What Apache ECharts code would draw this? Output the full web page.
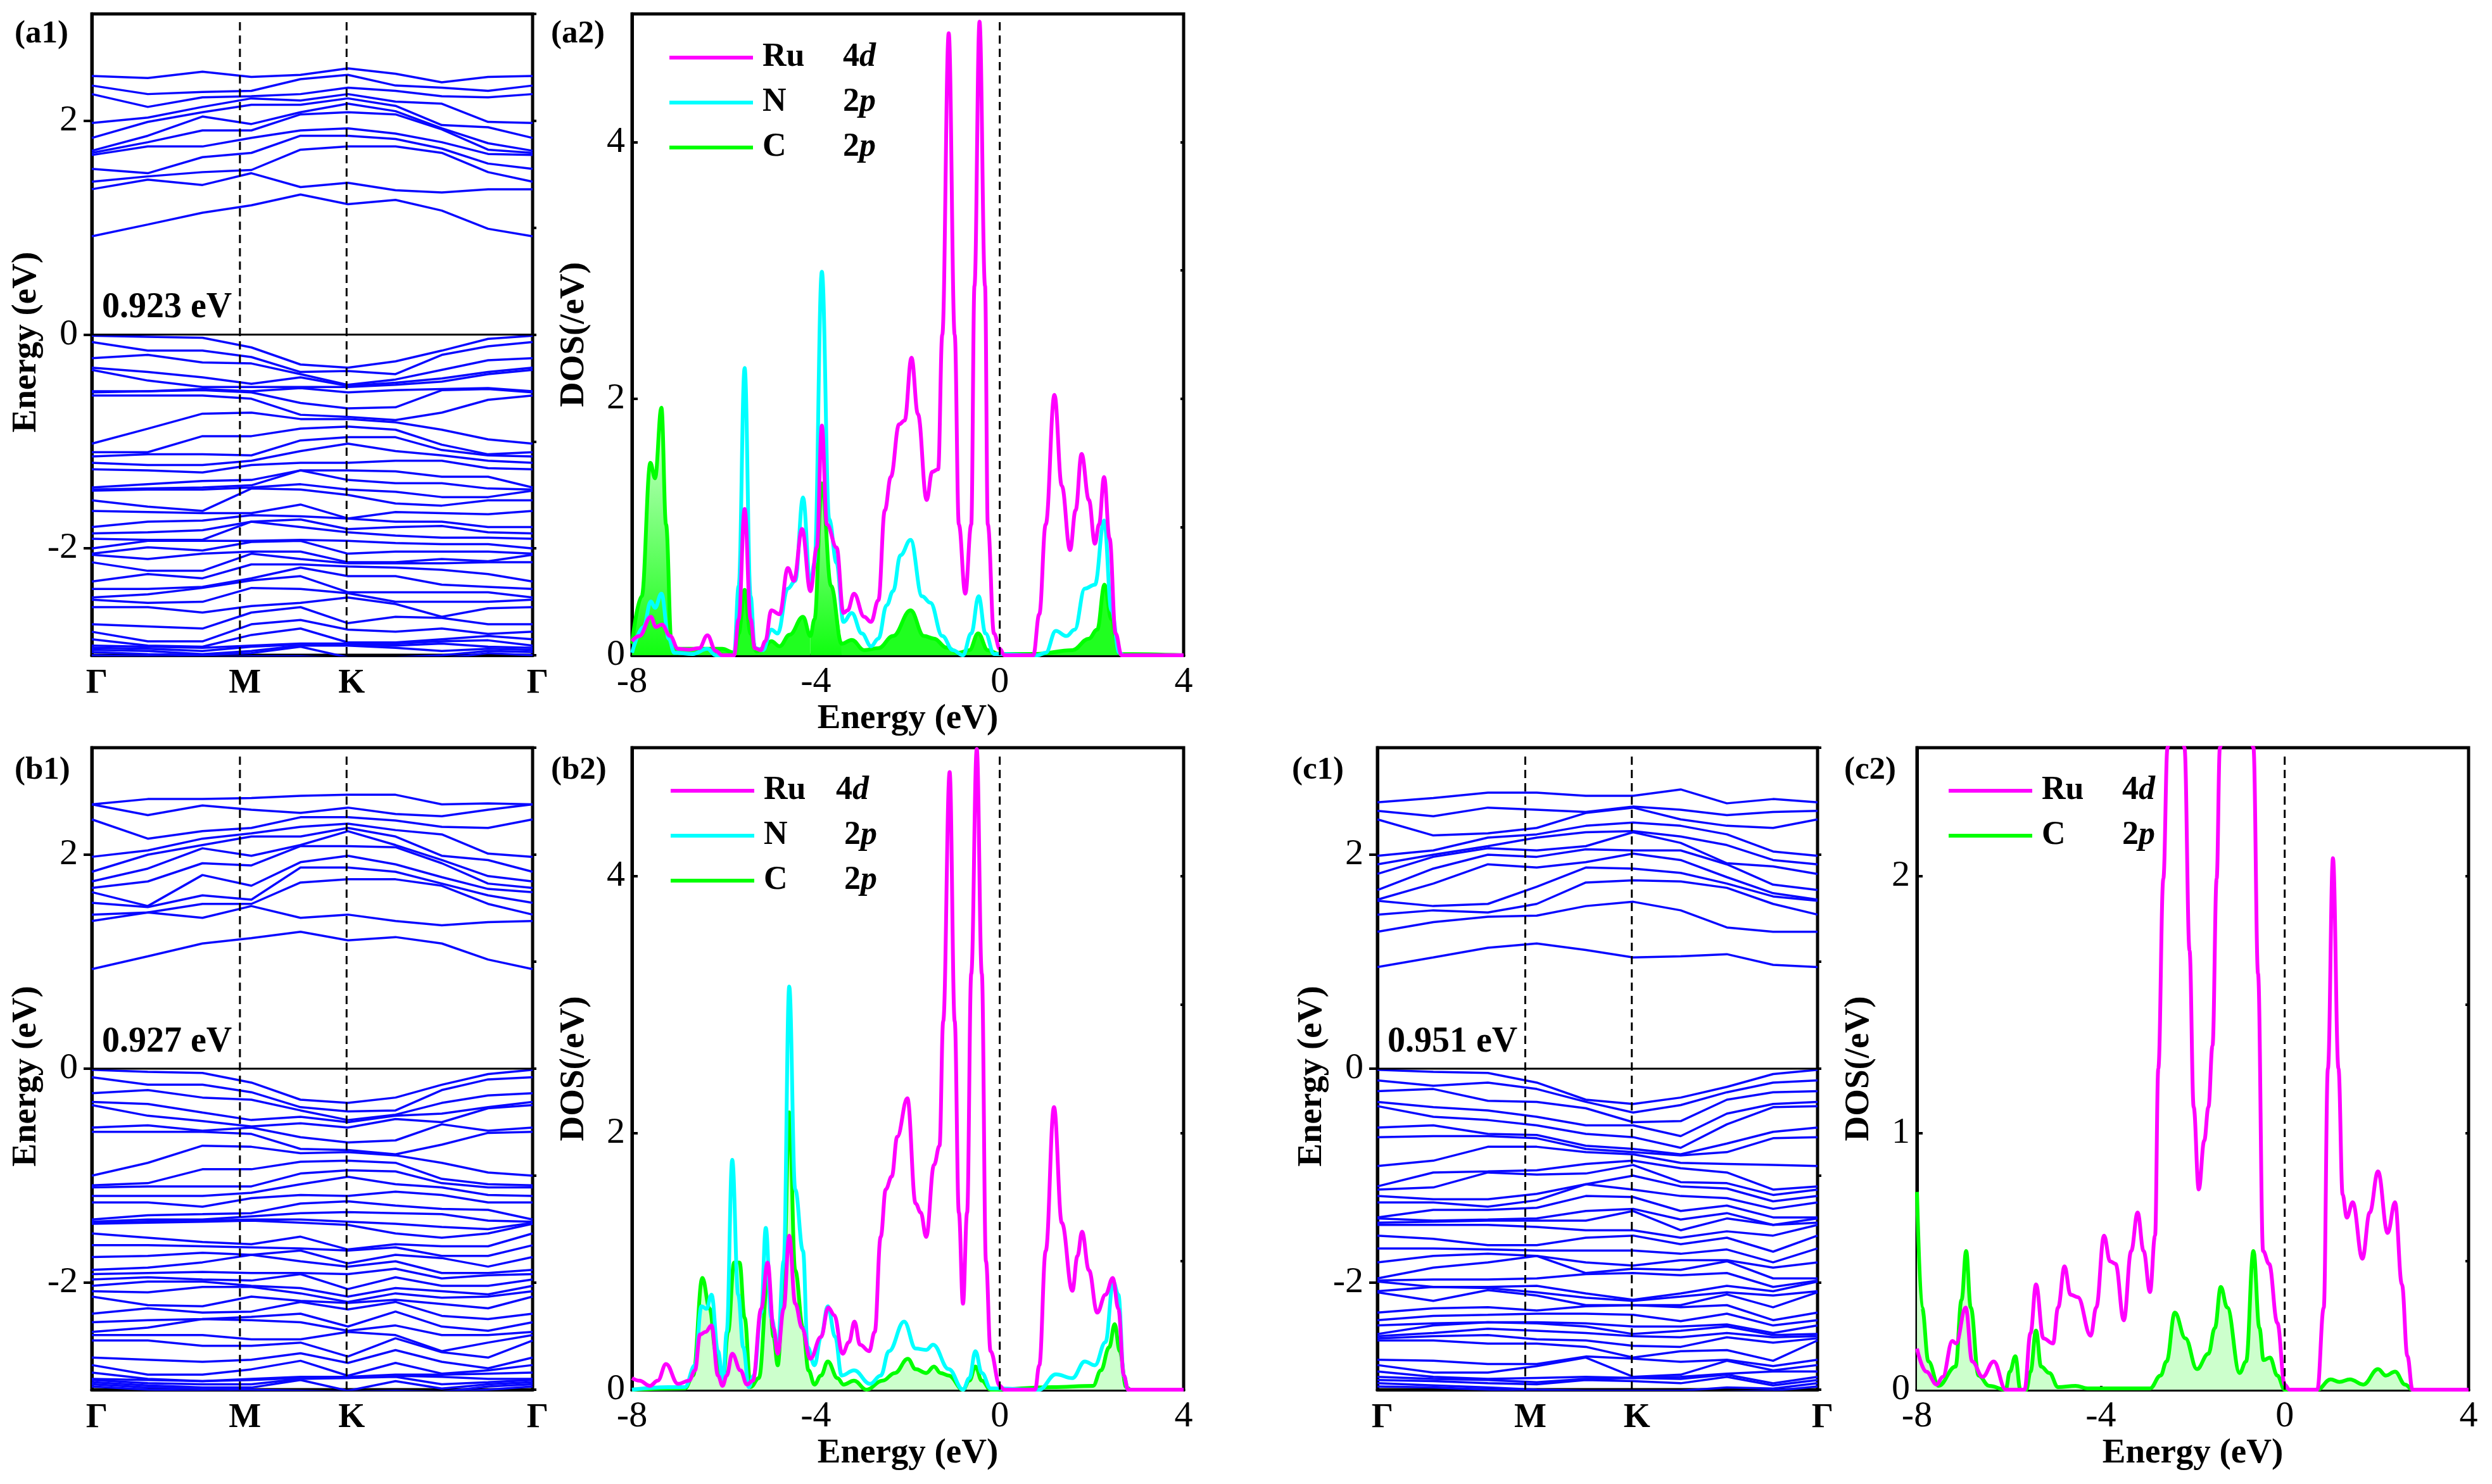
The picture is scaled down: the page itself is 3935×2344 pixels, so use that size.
<!DOCTYPE html>
<html><head><meta charset="utf-8">
<style>html,body{margin:0;padding:0;background:#fff}#c{width:3935px;height:2344px}</style>
<script src="https://cdn.jsdelivr.net/npm/echarts@6/dist/echarts.min.js"></script>
</head><body><div id="c"></div>
<script>
const kPoints=[0,.127,.251,.362,.4735,.581,.689,.794,.899,1];
const kTicks=[0,.336,.578,1];
const kTickNames=['Γ','M','K','Γ'];
const gaps=['0.923 eV','0.927 eV','0.951 eV'];

const a1Upper=[
[2.42,2.33,2.25,1.98,1.84,1.72,1.70,1.68,1.55,1.43,1.36,.92],
[2.40,2.25,2.13,2.03,1.99,1.86,1.80,1.76,1.51,1.48,1.45,1.03],
[2.46,2.27,2.22,2.13,2.08,2.04,1.91,1.76,1.66,1.52,1.40,1.14],
[2.41,2.28,2.23,2.21,2.15,1.97,1.91,1.84,1.70,1.54,1.51,1.21],
[2.43,2.39,2.25,2.19,2.15,2.08,2.06,1.91,1.86,1.73,1.38,1.31],
[2.49,2.43,2.31,2.25,2.21,2.16,2.08,1.93,1.86,1.76,1.42,1.22],
[2.44,2.33,2.28,2.18,2.14,2.09,2.06,1.88,1.83,1.76,1.35,1.26],
[2.36,2.31,2.23,2.16,1.96,1.93,1.92,1.80,1.74,1.70,1.33,1.16],
[2.41,2.28,2.22,1.99,1.94,1.79,1.73,1.69,1.60,1.52,1.36,.99]];
const a1Lower=[
[-.01,-.07,-.22,-.31,-.33,-.53,-.54,-.57,-1.02,-1.10,-1.14,-1.20,-1.26,-1.43,-1.45,-1.46,-1.55,-1.65,-1.80,-1.86,-1.91,-2.0,-2.05,-2.06,-2.13,-2.31,-2.38,-2.46,-2.48,-2.55,-2.71,-2.78,-2.85,-2.91,-2.93,-2.95,-2.97,-3.0],
[-.02,-.15,-.19,-.35,-.43,-.53,-.53,-.57,-.88,-1.10,-1.12,-1.22,-1.27,-1.40,-1.44,-1.45,-1.61,-1.66,-1.75,-1.85,-1.92,-1.93,-1.99,-2.10,-2.21,-2.24,-2.38,-2.43,-2.51,-2.55,-2.73,-2.87,-2.91,-2.92,-2.94,-2.96,-2.99,-3.01],
[-.03,-.15,-.26,-.40,-.49,-.51,-.52,-.57,-.74,-.95,-1.12,-1.22,-1.29,-1.37,-1.43,-1.45,-1.65,-1.67,-1.74,-1.83,-1.92,-1.93,-2.02,-2.05,-2.21,-2.28,-2.36,-2.37,-2.50,-2.60,-2.75,-2.87,-2.92,-2.93,-2.96,-2.99,-3.0,-3.02],
[-.12,-.21,-.27,-.46,-.49,-.53,-.54,-.60,-.73,-.95,-1.13,-1.18,-1.22,-1.36,-1.41,-1.43,-1.44,-1.67,-1.69,-1.75,-1.75,-1.93,-1.94,-2.03,-2.05,-2.15,-2.28,-2.30,-2.37,-2.54,-2.60,-2.71,-2.81,-2.91,-2.92,-2.96,-2.98,-3.01],
[-.28,-.35,-.37,-.40,-.49,-.50,-.64,-.75,-.79,-.88,-.99,-1.09,-1.20,-1.27,-1.27,-1.40,-1.45,-1.59,-1.70,-1.73,-1.80,-1.92,-1.93,-2.03,-2.10,-2.15,-2.18,-2.26,-2.38,-2.51,-2.55,-2.67,-2.75,-2.89,-2.90,-2.91,-2.92,-3.01],
[-.31,-.34,-.47,-.48,-.49,-.54,-.69,-.77,-.79,-.86,-.96,-1.02,-1.20,-1.27,-1.36,-1.45,-1.50,-1.72,-1.72,-1.82,-1.85,-1.93,-2.05,-2.13,-2.14,-2.17,-2.26,-2.41,-2.42,-2.46,-2.70,-2.76,-2.88,-2.89,-2.90,-2.91,-3.02,-3.03],
[-.25,-.37,-.42,-.45,-.47,-.52,-.68,-.80,-.82,-.89,-.96,-1.09,-1.18,-1.28,-1.39,-1.47,-1.58,-1.66,-1.75,-1.80,-1.88,-1.95,-2.03,-2.13,-2.14,-2.18,-2.26,-2.41,-2.50,-2.52,-2.64,-2.78,-2.88,-2.89,-2.91,-2.93,-3.02,-3.04],
[-.15,-.19,-.33,-.41,-.44,-.51,-.52,-.73,-.89,-1.03,-1.08,-1.13,-1.18,-1.33,-1.39,-1.52,-1.60,-1.67,-1.75,-1.79,-1.90,-1.96,-2.03,-2.10,-2.14,-2.20,-2.34,-2.41,-2.50,-2.64,-2.65,-2.75,-2.85,-2.87,-2.89,-2.96,-3.0,-3.03],
[-.04,-.11,-.24,-.35,-.37,-.50,-.51,-.61,-.98,-1.12,-1.13,-1.18,-1.25,-1.33,-1.44,-1.52,-1.55,-1.68,-1.80,-1.85,-1.90,-1.96,-2.03,-2.12,-2.13,-2.24,-2.36,-2.41,-2.50,-2.56,-2.71,-2.80,-2.82,-2.86,-2.92,-2.94,-2.96,-2.98]];

const b1Upper=[
[2.47,2.47,2.33,1.98,1.84,1.75,1.69,1.65,1.55,1.44,1.38,.93],
[2.52,2.37,2.15,2.04,2.0,1.87,1.75,1.52,1.51,1.46,1.46,1.05],
[2.52,2.46,2.22,2.15,2.09,2.06,1.92,1.81,1.62,1.54,1.41,1.17],
[2.53,2.42,2.25,2.2,2.17,1.99,1.90,1.71,1.58,1.54,1.52,1.22],
[2.55,2.39,2.35,2.26,2.17,2.09,2.08,1.93,1.88,1.74,1.41,1.28],
[2.56,2.44,2.35,2.29,2.25,2.22,2.08,1.99,1.88,1.77,1.44,1.2],
[2.56,2.38,2.32,2.23,2.17,2.09,2.07,1.91,1.84,1.77,1.38,1.23],
[2.47,2.36,2.26,2.19,1.99,1.95,1.92,1.79,1.73,1.71,1.34,1.17],
[2.48,2.42,2.25,2.01,1.95,1.80,1.73,1.68,1.62,1.54,1.37,1.02]];
const b1Lower=[
[-.01,-.08,-.23,-.31,-.34,-.55,-.59,-1.0,-1.09,-1.11,-1.19,-1.25,-1.41,-1.43,-1.44,-1.45,-1.54,-1.65,-1.76,-1.88,-1.92,-1.97,-2.03,-2.08,-2.13,-2.29,-2.37,-2.46,-2.49,-2.54,-2.70,-2.77,-2.84,-2.90,-2.91,-2.93,-2.95,-2.97],
[-.03,-.15,-.20,-.33,-.44,-.53,-.59,-.88,-1.07,-1.10,-1.19,-1.25,-1.37,-1.41,-1.43,-1.44,-1.58,-1.65,-1.75,-1.86,-1.91,-1.95,-1.99,-2.09,-2.21,-2.24,-2.35,-2.42,-2.49,-2.54,-2.72,-2.86,-2.90,-2.91,-2.94,-2.96,-2.98,-3.0],
[-.04,-.15,-.27,-.41,-.49,-.58,-.59,-.72,-.94,-1.10,-1.19,-1.29,-1.36,-1.41,-1.42,-1.43,-1.62,-1.66,-1.72,-1.81,-1.90,-1.97,-1.99,-2.04,-2.22,-2.28,-2.34,-2.34,-2.49,-2.59,-2.74,-2.86,-2.92,-2.92,-2.95,-2.98,-2.99,-3.01],
[-.13,-.22,-.29,-.48,-.54,-.55,-.61,-.73,-.94,-1.10,-1.16,-1.21,-1.35,-1.38,-1.41,-1.42,-1.64,-1.67,-1.74,-1.74,-1.91,-1.98,-2.03,-2.04,-2.13,-2.27,-2.32,-2.35,-2.53,-2.59,-2.72,-2.81,-2.90,-2.91,-2.95,-2.98,-3.0,-3.02],
[-.29,-.36,-.39,-.45,-.51,-.64,-.75,-.79,-.87,-.98,-1.08,-1.18,-1.26,-1.35,-1.41,-1.44,-1.57,-1.68,-1.70,-1.80,-1.91,-1.92,-2.05,-2.10,-2.17,-2.18,-2.29,-2.37,-2.53,-2.56,-2.66,-2.73,-2.88,-2.89,-2.90,-2.91,-3.01,-3.03],
[-.32,-.40,-.48,-.50,-.55,-.69,-.76,-.78,-.86,-.95,-1.01,-1.19,-1.24,-1.34,-1.43,-1.46,-1.69,-1.70,-1.82,-1.85,-1.92,-2.06,-2.13,-2.18,-2.19,-2.25,-2.41,-2.45,-2.46,-2.69,-2.75,-2.87,-2.88,-2.89,-2.89,-3.01,-3.02,-3.03],
[-.27,-.39,-.43,-.44,-.47,-.67,-.80,-.81,-.88,-.96,-1.08,-1.15,-1.28,-1.35,-1.45,-1.54,-1.64,-1.67,-1.74,-1.80,-1.87,-1.95,-2.05,-2.10,-2.16,-2.18,-2.27,-2.40,-2.49,-2.52,-2.63,-2.75,-2.86,-2.87,-2.88,-2.92,-3.01,-3.03],
[-.15,-.20,-.32,-.42,-.50,-.52,-.71,-.88,-1.03,-1.07,-1.11,-1.18,-1.31,-1.36,-1.48,-1.58,-1.66,-1.75,-1.77,-1.91,-1.96,-2.03,-2.08,-2.14,-2.20,-2.31,-2.41,-2.49,-2.64,-2.65,-2.74,-2.85,-2.86,-2.88,-2.95,-2.99,-3.02,-3.03],
[-.05,-.10,-.25,-.36,-.37,-.58,-.60,-.97,-1.08,-1.11,-1.18,-1.25,-1.32,-1.42,-1.50,-1.54,-1.66,-1.75,-1.85,-1.91,-1.93,-2.03,-2.11,-2.13,-2.24,-2.34,-2.45,-2.49,-2.56,-2.70,-2.80,-2.82,-2.85,-2.90,-2.93,-2.95,-2.97,-3.0]];

const c1Upper=[
[2.49,2.41,2.33,1.99,1.91,1.82,1.67,1.58,1.57,1.44,1.28,.95],
[2.53,2.36,2.18,2.04,2.0,1.98,1.87,1.73,1.52,1.48,1.37,1.04],
[2.58,2.44,2.20,2.16,2.08,2.06,2.0,1.91,1.54,1.46,1.42,1.13],
[2.58,2.42,2.25,2.19,2.16,2.04,1.98,1.88,1.70,1.54,1.43,1.17],
[2.55,2.40,2.39,2.27,2.21,2.08,2.05,1.93,1.88,1.74,1.52,1.11],
[2.55,2.45,2.44,2.30,2.22,2.21,2.04,2.01,1.87,1.76,1.56,1.04],
[2.61,2.42,2.33,2.27,2.17,2.11,2.04,1.95,1.83,1.75,1.48,1.05],
[2.48,2.37,2.27,2.19,2.09,1.92,1.91,1.79,1.73,1.69,1.32,1.07],
[2.52,2.40,2.25,2.03,1.95,1.89,1.72,1.64,1.61,1.54,1.28,.97]];
const c1Lower=[
[-.01,-.11,-.21,-.31,-.35,-.55,-.64,-.91,-1.10,-1.13,-1.19,-1.25,-1.39,-1.40,-1.44,-1.46,-1.56,-1.68,-1.81,-1.96,-1.98,-1.99,-2.08,-2.09,-2.28,-2.35,-2.40,-2.48,-2.50,-2.52,-2.54,-2.72,-2.77,-2.83,-2.88,-2.91,-2.94,-2.97],
[-.03,-.16,-.19,-.36,-.45,-.53,-.63,-.86,-.97,-1.11,-1.22,-1.25,-1.32,-1.42,-1.43,-1.46,-1.59,-1.68,-1.75,-1.86,-1.97,-2.04,-2.04,-2.17,-2.24,-2.31,-2.38,-2.40,-2.47,-2.50,-2.54,-2.73,-2.84,-2.88,-2.90,-2.92,-2.96,-2.98],
[-.04,-.13,-.30,-.39,-.48,-.61,-.63,-.73,-.96,-.97,-1.22,-1.29,-1.32,-1.41,-1.42,-1.46,-1.65,-1.69,-1.73,-1.81,-1.97,-2.04,-2.05,-2.07,-2.23,-2.30,-2.37,-2.37,-2.43,-2.49,-2.57,-2.76,-2.84,-2.90,-2.91,-2.94,-2.98,-3.0],
[-.13,-.19,-.31,-.45,-.53,-.62,-.65,-.73,-.95,-.99,-1.17,-1.23,-1.30,-1.40,-1.42,-1.48,-1.65,-1.70,-1.75,-1.75,-1.96,-2.03,-2.09,-2.12,-2.26,-2.29,-2.37,-2.38,-2.45,-2.53,-2.57,-2.76,-2.78,-2.89,-2.93,-2.95,-3.0,-3.02],
[-.29,-.31,-.37,-.53,-.61,-.72,-.75,-.78,-.89,-.98,-1.08,-1.08,-1.19,-1.33,-1.42,-1.51,-1.58,-1.70,-1.81,-1.91,-1.92,-2.10,-2.14,-2.21,-2.22,-2.29,-2.38,-2.41,-2.47,-2.54,-2.60,-2.69,-2.70,-2.88,-2.90,-2.91,-3.01,-3.03],
[-.33,-.41,-.50,-.53,-.64,-.75,-.78,-.80,-.86,-.90,-1.0,-1.13,-1.20,-1.31,-1.33,-1.51,-1.56,-1.70,-1.84,-1.87,-1.91,-2.16,-2.17,-2.21,-2.21,-2.30,-2.41,-2.48,-2.50,-2.59,-2.70,-2.71,-2.88,-2.89,-2.89,-2.92,-3.01,-3.03],
[-.27,-.34,-.49,-.63,-.74,-.80,-.81,-.88,-.93,-1.06,-1.10,-1.19,-1.33,-1.41,-1.51,-1.58,-1.64,-1.73,-1.79,-1.88,-1.93,-2.10,-2.13,-2.21,-2.23,-2.36,-2.41,-2.45,-2.51,-2.60,-2.64,-2.74,-2.86,-2.88,-2.90,-2.94,-3.01,-3.03],
[-.17,-.22,-.29,-.42,-.52,-.70,-.78,-.89,-.97,-1.07,-1.12,-1.21,-1.28,-1.35,-1.40,-1.52,-1.58,-1.69,-1.79,-1.80,-1.91,-2.03,-2.09,-2.11,-2.21,-2.29,-2.39,-2.41,-2.47,-2.51,-2.63,-2.72,-2.73,-2.85,-2.86,-2.88,-2.98,-3.02],
[-.05,-.13,-.22,-.33,-.36,-.59,-.65,-.90,-1.13,-1.18,-1.24,-1.31,-1.39,-1.46,-1.46,-1.56,-1.71,-1.81,-1.86,-1.96,-2.04,-2.08,-2.12,-2.23,-2.35,-2.40,-2.47,-2.49,-2.51,-2.56,-2.73,-2.78,-2.82,-2.83,-2.94,-2.96,-2.99,-3.01]];

const a2Ru=[[-8,.11],[-7.84,.15],[-7.59,.30],[-7.48,.22],[-7.35,.24],[-7.17,.15],[-7,.05],[-6.76,.045],[-6.54,.055],[-6.36,.155],[-6.18,.035],[-6.04,0],[-5.78,0],[-5.68,.28],[-5.55,1.14],[-5.42,.28],[-5.33,.055],[-5.2,.04],[-5.1,.11],[-4.97,.35],[-4.79,.32],[-4.61,.68],[-4.48,.58],[-4.3,.985],[-4.12,.5],[-3.98,.84],[-3.87,1.79],[-3.76,1.02],[-3.55,.84],[-3.4,.33],[-3.31,.35],[-3.17,.48],[-2.95,.3],[-2.8,.26],[-2.64,.43],[-2.5,1.13],[-2.37,1.39],[-2.19,1.8],[-2.07,1.83],[-1.92,2.32],[-1.78,1.88],[-1.59,1.21],[-1.47,1.43],[-1.34,1.45],[-1.25,2.5],[-1.11,4.85],[-.98,2.5],[-.89,1.02],[-.75,.48],[-.62,1.02],[-.55,2.88],[-.44,4.94],[-.32,2.88],[-.26,1.02],[-.125,.17],[0,.05],[.1,0],[.73,0],[.86,.32],[1,1.02],[1.19,2.03],[1.35,1.32],[1.53,.82],[1.65,1.13],[1.78,1.57],[1.94,1.21],[2.07,.87],[2.16,1.02],[2.27,1.39],[2.39,.91],[2.52,.17],[2.65,0],[4,0]];
const a2N=[[-8,.02],[-7.75,.22],[-7.59,.42],[-7.5,.37],[-7.36,.48],[-7.2,.13],[-7.08,.02],[-6.68,.01],[-6.36,.05],[-6.18,0],[-5.78,0],[-5.68,.54],[-5.55,2.24],[-5.42,.46],[-5.33,.055],[-5.15,.04],[-4.97,.2],[-4.83,.17],[-4.61,.52],[-4.45,.58],[-4.28,1.23],[-4.12,.54],[-4.03,.72],[-3.87,2.99],[-3.71,1.06],[-3.55,.72],[-3.4,.26],[-3.22,.33],[-3,.17],[-2.8,.07],[-2.64,.13],[-2.46,.39],[-2.32,.5],[-2.16,.78],[-1.94,.9],[-1.69,.46],[-1.51,.41],[-1.25,.15],[-1.02,.04],[-.8,0],[-.62,.17],[-.46,.46],[-.31,.17],[-.125,.01],[.82,0],[1,.02],[1.22,.19],[1.45,.15],[1.63,.2],[1.85,.52],[2.07,.55],[2.27,1.05],[2.43,.35],[2.6,.02],[2.7,0],[4,0]];
const a2C=[[-8,.09],[-7.79,.46],[-7.6,1.5],[-7.5,1.38],[-7.36,1.93],[-7.26,1.02],[-7.14,.09],[-7,.05],[-6.04,.05],[-5.78,.02],[-5.68,.17],[-5.55,.51],[-5.42,.17],[-5.29,.03],[-5.15,.055],[-4.97,.11],[-4.79,.07],[-4.57,.16],[-4.28,.3],[-4.12,.15],[-4.03,.28],[-3.87,1.34],[-3.67,.54],[-3.44,.09],[-3.22,.12],[-2.95,.04],[-2.64,.055],[-2.32,.15],[-1.94,.35],[-1.65,.15],[-1.43,.13],[-1.16,.06],[-.89,.02],[-.66,.04],[-.47,.17],[-.26,.04],[-.02,.01],[.78,.01],[1.58,.04],[1.94,.13],[2.12,.2],[2.28,.55],[2.43,.28],[2.61,.01],[4,0]];

const b2Ru=[[-8,.09],[-7.84,.07],[-7.61,.03],[-7.44,.07],[-7.26,.2],[-7,.045],[-6.76,.07],[-6.63,.15],[-6.52,.43],[-6.4,.45],[-6.27,.5],[-6.13,.11],[-6.03,.03],[-5.94,.11],[-5.82,.28],[-5.64,.15],[-5.5,.04],[-5.37,.07],[-5.19,.63],[-5.05,.99],[-4.92,.48],[-4.83,.28],[-4.7,.63],[-4.58,1.2],[-4.45,.67],[-4.3,.48],[-4.12,.24],[-3.89,.41],[-3.73,.64],[-3.6,.58],[-3.42,.28],[-3.28,.37],[-3.16,.53],[-3.04,.35],[-2.84,.3],[-2.72,.45],[-2.59,1.19],[-2.48,1.56],[-2.35,1.66],[-2.23,1.97],[-2.01,2.27],[-1.83,1.45],[-1.72,1.38],[-1.6,1.19],[-1.43,1.75],[-1.31,1.9],[-1.23,2.87],[-1.09,4.81],[-.98,2.87],[-.89,1.38],[-.8,.67],[-.71,1.38],[-.62,3.24],[-.5,4.99],[-.39,3.24],[-.3,1],[-.2,.3],[0,.03],[.1,0],[.77,0],[.86,.19],[1,1.08],[1.18,2.2],[1.35,1.3],[1.58,.77],[1.69,1.04],[1.79,1.23],[1.94,.93],[2.12,.6],[2.3,.74],[2.46,.87],[2.58,.63],[2.7,.11],[2.79,0],[4,0]];
const b2N=[[-8,0],[-7.21,.02],[-6.85,.02],[-6.63,.19],[-6.49,.65],[-6.38,.63],[-6.27,.74],[-6.13,.3],[-6.02,.07],[-5.94,.45],[-5.82,1.79],[-5.69,.74],[-5.58,.33],[-5.46,.02],[-5.35,.11],[-5.19,.6],[-5.09,1.26],[-4.97,.56],[-4.83,.33],[-4.7,1],[-4.58,3.14],[-4.45,1.56],[-4.28,1.08],[-4.18,.33],[-4.03,.19],[-3.89,.41],[-3.74,.65],[-3.58,.41],[-3.44,.11],[-3.17,.15],[-2.82,.045],[-2.59,.11],[-2.41,.3],[-2.08,.53],[-1.83,.32],[-1.6,.31],[-1.45,.35],[-1.11,.16],[-.8,0],[-.66,.09],[-.53,.3],[-.39,.13],[-.2,.01],[.86,0],[1.22,.12],[1.58,.09],[1.85,.22],[2.07,.19],[2.3,.37],[2.47,.84],[2.58,.74],[2.7,.11],[2.79,0],[4,0]];
const b2C=[[-8,0],[-6.85,.01],[-6.67,.11],[-6.47,.87],[-6.31,.63],[-6.18,.3],[-6.03,.04],[-5.91,.45],[-5.78,.99],[-5.66,.99],[-5.55,.56],[-5.42,.02],[-5.24,.09],[-5.04,.89],[-4.92,.41],[-4.83,.19],[-4.7,.89],[-4.58,2.16],[-4.45,.93],[-4.28,.48],[-4.16,.15],[-4.03,.04],[-3.89,.11],[-3.74,.22],[-3.53,.09],[-3.4,.04],[-3.17,.07],[-2.9,0],[-2.55,.07],[-2.28,.13],[-2,.24],[-1.83,.16],[-1.6,.13],[-1.43,.18],[-1.29,.13],[-1.11,.11],[-.8,0],[-.66,.07],[-.53,.18],[-.39,.07],[-.2,0],[1.14,.02],[2.03,.03],[2.2,.15],[2.38,.33],[2.5,.51],[2.61,.3],[2.75,.02],[2.85,0],[4,0]];

const c2Ru=[[-8,.16],[-7.8,.07],[-7.57,.02],[-7.44,.05],[-7.23,.19],[-7.15,.18],[-6.94,.32],[-6.8,.11],[-6.57,.05],[-6.33,.11],[-6.07,0],[-5.66,0],[-5.53,.22],[-5.41,.41],[-5.25,.2],[-5.04,.18],[-4.93,.32],[-4.79,.48],[-4.66,.37],[-4.5,.36],[-4.22,.21],[-4.1,.32],[-3.93,.6],[-3.8,.5],[-3.68,.49],[-3.5,.27],[-3.34,.54],[-3.2,.69],[-3.07,.54],[-2.93,.38],[-2.82,.6],[-2.75,1.25],[-2.64,1.99],[-2.55,2.5],[-2.37,3.3],[-2.18,2.5],[-2.07,1.71],[-1.98,1.1],[-1.87,.78],[-1.75,.97],[-1.66,1.1],[-1.57,1.34],[-1.48,1.99],[-1.41,2.5],[-1.07,4],[-.68,2.5],[-.58,1.62],[-.47,.54],[-.34,.49],[-.16,.26],[0,.02],[.1,0],[.71,0],[.85,.32],[.94,1.25],[1.05,2.07],[1.17,1.25],[1.26,.76],[1.35,.67],[1.48,.73],[1.69,.51],[1.85,.69],[2.03,.85],[2.24,.61],[2.4,.73],[2.55,.41],[2.67,.13],[2.78,0],[4,0]];
const c2C=[[-8,.77],[-7.89,.32],[-7.75,.11],[-7.53,.015],[-7.16,.09],[-7.03,.35],[-6.93,.54],[-6.83,.32],[-6.66,.055],[-6.43,.015],[-6.07,0],[-5.98,.07],[-5.86,.13],[-5.75,0],[-5.62,0],[-5.53,.07],[-5.41,.23],[-5.3,.09],[-5.12,.065],[-4.93,.01],[-4.55,.015],[-4.29,.005],[-2.93,.005],[-2.7,.055],[-2.57,.11],[-2.39,.3],[-2.16,.2],[-1.91,.08],[-1.66,.14],[-1.52,.24],[-1.39,.4],[-1.25,.32],[-.98,.065],[-.84,.11],[-.68,.54],[-.55,.24],[-.46,.115],[-.32,.125],[-.16,.055],[0,0],[.71,0],[1,.04],[1.19,.03],[1.42,.04],[1.71,.02],[2.03,.08],[2.2,.055],[2.4,.07],[2.62,.02],[2.78,0],[4,0]];

const FF='"Liberation Serif"';
const bandGrids=[{l:145,t:22,w:696,h:1013},{l:145,t:1181,w:696,h:1014},{l:2175,t:1181,w:695,h:1014}];
const dosGrids=[{l:998,t:22,w:871,h:1013},{l:998,t:1181,w:871,h:1014},{l:3027,t:1181,w:871,h:1014}];
const grids=[],xAxes=[],yAxes=[],series=[],legends=[],texts=[];

function addGrid(g){grids.push({left:g.l,top:g.t,width:g.w,height:g.h,show:true,borderColor:'#000',borderWidth:5,backgroundColor:'#fff'});return grids.length-1;}
const axisLine={show:true,onZero:false,lineStyle:{color:'#000',width:5}};

function bandPanel(g,upper,lower){
  const gi=addGrid(g);
  xAxes.push({type:'value',gridIndex:gi,min:0,max:1,splitLine:{show:false},axisLine,axisTick:{show:false},
    axisLabel:{customValues:kTicks,margin:18,padding:[0,0,0,16],color:'#000',fontFamily:FF,fontWeight:'bold',fontSize:54,
      formatter:v=>kTickNames[kTicks.indexOf(v)]}});
  const yMain=yAxes.length;
  yAxes.push({type:'value',gridIndex:gi,min:-3,max:3,name:'Energy (eV)',nameLocation:'middle',nameGap:76,
    nameTextStyle:{color:'#000',fontFamily:FF,fontWeight:'bold',fontSize:55,padding:[0,24,0,0]},
    splitLine:{show:false},axisLine,axisTick:{customValues:[-2,0,2],length:13,lineStyle:{color:'#000',width:4}},
    axisLabel:{customValues:[-2,0,2],margin:22,color:'#000',fontFamily:FF,fontSize:58}});
  yAxes.push({type:'value',gridIndex:gi,min:-3,max:3,interval:1,splitLine:{show:false},axisLine:{show:false,onZero:false},
    axisTick:{length:6,lineStyle:{color:'#000',width:4}},axisLabel:{show:false}});
  const cols=upper.map((c,i)=>c.concat(lower[i]));
  cols.push(cols[0]);
  cols[0].forEach((_,b)=>{
    series.push({type:'line',xAxisIndex:gi,yAxisIndex:yMain,symbol:'none',silent:true,animation:false,
      lineStyle:{color:'#0808ff',width:3.5},data:kPoints.map((x,i)=>[x,cols[i][b]])});
  });
  [kTicks[1],kTicks[2]].forEach(x=>series.push({type:'line',xAxisIndex:gi,yAxisIndex:yMain,symbol:'none',silent:true,animation:false,z:4,
    lineStyle:{color:'#000',width:3,type:[13,8]},data:[[x,-3],[x,2.93]]}));
  series.push({type:'line',xAxisIndex:gi,yAxisIndex:yMain,symbol:'none',silent:true,animation:false,z:4,
    lineStyle:{color:'#000',width:3},data:[[0,0],[1,0]]});
}

const RU='#ff00ff',NC='#00ffff',CC='#00ff00';
function seg(d,lo,hi){return d.filter(p=>p[0]>=lo&&p[0]<=hi);}
function grad(top,bottom){return {type:'linear',x:0,y:0,x2:0,y2:1,colorStops:[{offset:0,color:top},{offset:1,color:bottom}]};}

function dosPanel(g,yMax,major,minor,ru,n,c,fills,leg){
  const gi=addGrid(g);
  xAxes.push({type:'value',gridIndex:gi,min:-8,max:4,interval:4,name:'Energy (eV)',nameLocation:'middle',nameGap:71,
    nameTextStyle:{color:'#000',fontFamily:FF,fontWeight:'bold',fontSize:55},
    splitLine:{show:false},axisLine,axisTick:{inside:true,length:6,lineStyle:{color:'#000',width:4}},
    axisLabel:{margin:14,color:'#000',fontFamily:FF,fontSize:58}});
  const yMain=yAxes.length;
  yAxes.push({type:'value',gridIndex:gi,min:0,max:yMax,name:'DOS(/eV)',nameLocation:'middle',nameGap:64,
    nameTextStyle:{color:'#000',fontFamily:FF,fontWeight:'bold',fontSize:55},
    splitLine:{show:false},axisLine,axisTick:{customValues:major,inside:true,length:9,lineStyle:{color:'#000',width:4}},
    axisLabel:{customValues:major,margin:11,color:'#000',fontFamily:FF,fontSize:58}});
  yAxes.push({type:'value',gridIndex:gi,min:0,max:yMax,interval:minor,splitLine:{show:false},axisLine:{show:false,onZero:false},
    axisTick:{inside:true,length:5,lineStyle:{color:'#000',width:4}},axisLabel:{show:false}});
  const base={type:'line',xAxisIndex:gi,yAxisIndex:yMain,symbol:'none',animation:false,smooth:.4,smoothMonotone:'x',silent:true};
  fills.forEach(f=>series.push({...base,name:'fill',lineStyle:{width:0},itemStyle:{opacity:0},areaStyle:{color:f.color,opacity:1},data:seg(c,f.lo,f.hi),z:2}));
  series.push({...base,name:'C',lineStyle:{color:CC,width:6},itemStyle:{color:CC},data:c,z:3});
  if(n)series.push({...base,name:'N',lineStyle:{color:NC,width:6},itemStyle:{color:NC},data:n,z:3});
  series.push({...base,name:'Ru',lineStyle:{color:RU,width:6},itemStyle:{color:RU},data:ru,z:3});
  const txt={fontFamily:FF,fontWeight:'bold',fontSize:52,lineHeight:54,color:'#000'};
  legends.push({show:true,orient:'vertical',left:leg.left,top:leg.top,icon:'rect',itemWidth:132,itemHeight:6,itemGap:19,padding:0,
    data:leg.rows.map(r=>r[0]),selectedMode:false,
    formatter:name=>{const r=leg.rows.find(x=>x[0]===name);return '{'+(r[3]||'n')+'|'+name+'}{o|'+r[1]+'}{i|'+r[2]+'}';},
    textStyle:{rich:{
      n:{...txt,width:127,padding:[0,0,0,10]},
      m:{...txt,width:114,padding:[0,0,0,10]},
      o:{...txt},
      i:{...txt,fontStyle:'italic'}}}});
  series.push({type:'line',xAxisIndex:gi,yAxisIndex:yMain,symbol:'none',silent:true,animation:false,z:4,
    lineStyle:{color:'#000',width:3,type:[13,8]},data:[[0,0],[0,yMax*.988]]});
}

bandPanel(bandGrids[0],a1Upper,a1Lower);
dosPanel(dosGrids[0],5,[0,2,4],1,a2Ru,a2N,a2C,[
  {lo:-8,hi:-7,color:grad('#d8ffd8','#10ff10')},
  {lo:-7,hi:-4.12,color:'#20ff20'},
  {lo:-4.12,hi:-3.44,color:grad('#a0ffa0','#10ff10')},
  {lo:-3.44,hi:4,color:'#20ff20'}],
  {left:1057,top:65,rows:[['Ru','4','d'],['N','2','p'],['C','2','p']]});
bandPanel(bandGrids[1],b1Upper,b1Lower);
dosPanel(dosGrids[1],5,[0,2,4],1,b2Ru,b2N,b2C,[{lo:-8,hi:4,color:'#ccffcc'}],
  {left:1059,top:1223,rows:[['Ru','4','d','m'],['N','2','p'],['C','2','p']]});
bandPanel(bandGrids[2],c1Upper,c1Lower);
dosPanel(dosGrids[2],2.5,[0,1,2],.5,c2Ru,null,c2C,[{lo:-8,hi:4,color:'#ccffcc'}],
  {left:3077,top:1223,rows:[['Ru','4','d'],['C','2','p']]});

function label(t,x,y,size){texts.push({type:'text',left:x,top:y-size/2,z:10,style:{text:t,fontFamily:FF,fontWeight:'bold',fontSize:size,fill:'#000'}});}
label('(a1)',23,54,51);label('(a2)',870,54,51);label('(b1)',23,1217,51);label('(b2)',870,1217,51);label('(c1)',2040,1217,51);label('(c2)',2912,1217,51);
label(gaps[0],161,487,56);label(gaps[1],161,1647,56);label(gaps[2],2191,1647,56);

const chart=echarts.init(document.getElementById('c'),null,{renderer:'canvas',width:3935,height:2344});
chart.setOption({animation:false,backgroundColor:'#fff',grid:grids,xAxis:xAxes,yAxis:yAxes,series,legend:legends,graphic:texts,tooltip:{show:false}});
</script></body></html>
